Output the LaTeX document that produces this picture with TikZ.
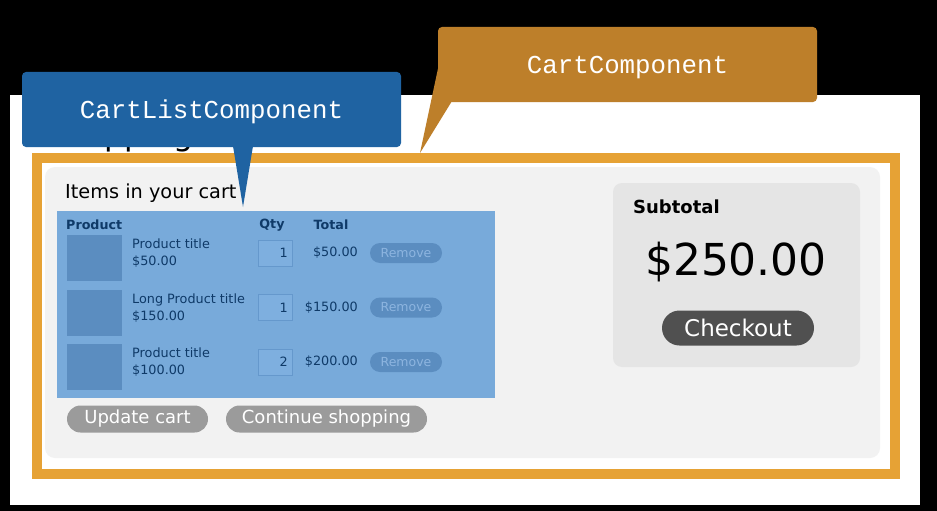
\documentclass[tikz,border=0pt]{standalone}
\usepackage{fontspec}
\setmainfont{DejaVu Sans}
\setmonofont{Liberation Mono}
\usepackage{tikz}
\usetikzlibrary{positioning}
\definecolor{framegold}{HTML}{E6A235}
\definecolor{calloutgold}{HTML}{BD7F2A}
\definecolor{calloutblue}{HTML}{1F63A2}
\definecolor{panelgrey}{HTML}{F2F2F2}
\definecolor{subgrey}{HTML}{E5E5E5}
\definecolor{listblue}{HTML}{78AADA}
\definecolor{thumbblue}{HTML}{5B8DC0}
\definecolor{qtyblue}{HTML}{7EAFDF}
\definecolor{qtyedge}{HTML}{6598CC}
\definecolor{navytext}{HTML}{0F3A68}
\definecolor{removetext}{HTML}{8DB5E0}
\definecolor{pillgrey}{HTML}{9B9B9B}
\definecolor{darkpill}{HTML}{505050}
\tikzset{
  box/.style={rectangle,inner sep=0pt,outer sep=0pt},
  panel/.style={box,fill=panelgrey,rounded corners=10pt},
  subpanel/.style={box,fill=subgrey,rounded corners=9pt},
  listbox/.style={box,fill=listblue},
  thumb/.style={box,fill=thumbblue,minimum width=55,minimum height=46},
  qtybox/.style={box,fill=qtyblue,draw=qtyedge,line width=1pt,minimum width=34,minimum height=26},
  colhead/.style={inner sep=0pt,text=navytext,font=\fontsize{12.7}{15}\selectfont\bfseries},
  itemtext/.style={inner sep=0pt,text=navytext,align=left,font=\fontsize{12.8}{17}\selectfont},
  removepill/.style={box,fill=thumbblue,rounded corners=10pt,minimum width=72,minimum height=20,
    text=removetext,font=\fontsize{12.5}{15}\selectfont},
  greypill/.style={box,fill=pillgrey,rounded corners=13.5pt,minimum height=27,
    text=white,font=\fontsize{18}{21}\selectfont},
  callout/.style={box,rounded corners=4pt,minimum width=379,minimum height=75,text depth=0pt,
    text=white,font=\fontsize{25.8}{30}\selectfont\ttfamily}
}

\begin{document}
\begin{tikzpicture}[x=1pt,y=-1pt]
\fill[black] (0,0) rectangle (937,511);
\useasboundingbox (0,0) rectangle (937,511);
\fill[white] (10,95) rectangle (920,505);
% page heading, mostly hidden by the callout
\node[inner sep=0pt,anchor=base west,font=\fontsize{31.5}{36}\selectfont] (heading) at (45,145) {Shopping cart};
% cart component
\node[panel,anchor=north west,minimum width=835,minimum height=291] (cart) at (45,167) {};
\draw[framegold,line width=10pt] (37,158) rectangle (895,474);
\node[inner sep=0pt,anchor=west,font=\fontsize{19.3}{22}\selectfont] (items) at (65,193) {Items in your cart};
% cart list
\node[listbox,anchor=north west,minimum width=438,minimum height=187] (list) at (57,211) {};
\node[colhead,anchor=west] (hprod) at (66,225) {Product};
\node[colhead] (hqty) at (272,225) {Qty};
\node[colhead] (htotal) at (331,225) {Total};
\foreach \i/\name/\price/\qty/\total in {0/Product title/\$50.00/1/\$50.00,
    1/Long Product title/\$150.00/1/\$150.00, 2/Product title/\$100.00/2/\$200.00}{
  \pgfmathsetmacro\rowy{235+54.5*\i}
  \node[thumb,anchor=north west] (thumb\i) at (67,\rowy) {};
  \node[itemtext,anchor=west] (name\i) at (132,\rowy+18.5) {\name\\\price};
  \node[qtybox] (qtybox\i) at (275,\rowy+18) {};
  \node[itemtext,left=4pt of qtybox\i.east] (qty\i) {\qty};
  \node[itemtext,anchor=east] (total\i) at (358,\rowy+18) {\total};
  \node[removepill] (remove\i) at (406,\rowy+18) {Remove};
}
\node[greypill,anchor=west,minimum width=141] (update) at (67,419) {Update cart};
\node[greypill,right=18pt of update,minimum width=201] (continue) {Continue shopping};
% subtotal
\node[subpanel,anchor=north west,minimum width=247,minimum height=184] (sub) at (613,183) {};
\node[inner sep=0pt,anchor=west,font=\fontsize{18}{21}\selectfont\bfseries] (subtitle) at (633,207) {Subtotal};
\node[inner sep=0pt,font=\fontsize{44}{50}\selectfont] (amount) at (736,262) {\$250.00};
\node[box,fill=darkpill,rounded corners=17.5pt,minimum width=152,minimum height=35,
  text=white,font=\fontsize{23}{26}\selectfont] (checkout) at (738,328) {Checkout};
% callouts
\node[callout,fill=calloutblue,anchor=north west] (listtag) at (22,72) {CartListComponent};
\coordinate (listtip) at (243,207);
\fill[calloutblue] ([xshift=21.5pt,yshift=1pt]listtag.south) -- (listtip)
  -- ([xshift=41.5pt,yshift=1pt]listtag.south) -- cycle;
\node[callout,fill=calloutgold,anchor=north west] (carttag) at (438,27) {CartComponent};
\coordinate (carttip) at (420,153);
\fill[calloutgold] ([yshift=-4pt]carttag.west) -- (carttip)
  -- ([xshift=14pt,yshift=1pt]carttag.south west) -- cycle;
\end{tikzpicture}
\end{document}
